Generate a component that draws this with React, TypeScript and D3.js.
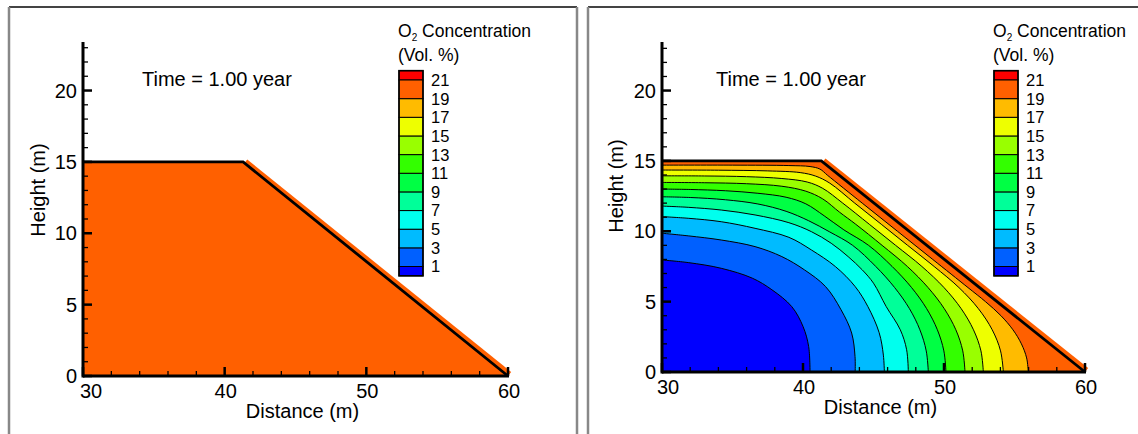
import React from 'react';
import * as d3 from 'd3';

// O2 concentration levels (Vol. %) and the colour of every band
// bandColors[i] = band below levels[i], last one = above 21
const levels = [1, 3, 5, 7, 9, 11, 13, 15, 17, 19, 21];
const bandColors = [
  '#0000ff', '#0060ff', '#00bbff', '#00ffee', '#00ff99', '#00ff44',
  '#33ff00', '#99ff00', '#eeff00', '#ffbb00', '#ff6000', '#ff0000',
];

// waste rock pile outline (distance m, height m)
const domainX = [30, 30, 41.3, 60];
const domainY = [0, 15, 15, 0];

const xTicks = [30, 40, 50, 60];
const xMinor = [32, 34, 36, 38, 42, 44, 46, 48, 52, 54, 56, 58];
const yTicks = [0, 5, 10, 15, 20];
const yMinor = [1, 2, 3, 4, 6, 7, 8, 9, 11, 12, 13, 14, 16, 17, 18, 19, 21, 22, 23];

const timeLabel = 'Time = 1.00 year';

// contour lines of the right plot: [distance, height]
const c1 = [[30, 7.96], [31.9, 7.77], [34.2, 7.37], [36.4, 6.67], [37.8, 5.84], [39.2, 4.65], [40.0, 3.24], [40.4, 1.82], [40.5, 0]];
const c3 = [[30, 9.86], [31.9, 9.67], [34.2, 9.38], [36.6, 8.91], [38.5, 8.2], [40.1, 7.26], [41.6, 6.07], [42.7, 4.42], [43.45, 2.77], [43.69, 1.1], [43.7, 0]];
const c5 = [[30, 11.04], [31.9, 10.92], [34.2, 10.68], [36.6, 10.21], [39.0, 9.57], [40.6, 8.67], [42.3, 7.49], [43.7, 6.07], [44.6, 4.65], [45.4, 2.8], [45.7, 1.2], [45.77, 0]];
const c7 = [[30, 11.79], [31.9, 11.7], [34.2, 11.51], [36.6, 11.16], [39.0, 10.61], [40.6, 9.97], [42.0, 9.15], [43.2, 8.2], [44.2, 7.26], [45.0, 6.31], [45.9, 4.65], [46.9, 3.0], [47.35, 1.58], [47.47, 0]];
const c9 = [[30, 12.45], [32, 12.4], [34.5, 12.24], [36.8, 11.94], [38.8, 11.42], [40.4, 10.75], [41.9, 9.95], [43.52, 9.0], [45.16, 7.5], [46.5, 6.0], [47.55, 4.5], [48.29, 3.0], [48.74, 1.5], [48.89, 0]];
const c11 = [[30, 13.0], [32, 12.97], [34.5, 12.88], [36.8, 12.7], [38.8, 12.42], [40.2, 11.95], [41.5, 11.1], [42.9, 10.1], [44.65, 9.0], [46.32, 7.5], [47.7, 6.0], [48.77, 4.5], [49.53, 3.0], [49.99, 1.5], [50.14, 0]];
const c13 = [[30, 13.47], [33, 13.45], [36, 13.38], [38.5, 13.2], [40.2, 12.85], [41.4, 12.3], [42.6, 11.35], [43.74, 10.5], [45.61, 9.0], [47.4, 7.5], [48.87, 6.0], [50.02, 4.5], [50.84, 3.0], [51.33, 1.5], [51.49, 0]];
const c15 = [[30, 13.94], [33, 13.93], [36, 13.88], [38.5, 13.75], [40.3, 13.5], [41.4, 13.05], [42.82, 12.0], [44.7, 10.5], [46.57, 9.0], [48.43, 7.5], [50.0, 6.0], [51.22, 4.5], [52.09, 3.0], [52.62, 1.5], [52.79, 0]];
const c17 = [[30, 14.35], [34, 14.34], [37.5, 14.29], [39.8, 14.17], [40.9, 13.92], [41.9, 13.42], [43.67, 12.0], [45.55, 10.5], [47.42, 9.0], [49.3, 7.5], [51.06, 6.0], [52.44, 4.5], [53.42, 3.0], [54.01, 1.5], [54.21, 0]];
const c19 = [[30, 14.7], [35, 14.7], [39, 14.67], [40.5, 14.6], [41.2, 14.42], [41.75, 13.97], [44.2, 12.0], [46.7, 10.0], [49.2, 8.0], [51.7, 6.0], [52.94, 5.0], [54.04, 4.0], [54.89, 3.0], [55.49, 2.0], [55.86, 1.0], [55.98, 0]];
const rightContours = [c1, c3, c5, c7, c9, c11, c13, c15, c17, c19];

const font = 'Liberation Sans, Arial, sans-serif';

function Panel({ cfg, contours }) {
  const x = d3.scaleLinear().domain([30, 60]).range([cfg.xLeft, cfg.xRight]);
  const y = d3.scaleLinear().domain([0, cfg.yTop]).range([cfg.yBottom, 42]);
  const lg = d3.scaleLinear().domain([21, 1]).range([80, 266.5]);
  const line = d3.line().x(d => x(d[0])).y(d => y(d[1]));
  const curve = d3.line().x(d => x(d[0])).y(d => y(d[1])).curve(d3.curveCatmullRom.alpha(0.5));

  const pts = domainX.map((v, i) => [v, domainY[i]]);
  const domainPath = line(pts) + 'Z';
  // orange rim just outside the slope
  const ox = 1.6, oy = -2.0;
  const half = (lg(1) - lg(3)) / 2;

  return (
    <g fontFamily={font}>
      {/* frame */}
      <line x1={cfg.frameLeft} x2={cfg.frameRight} y1={7} y2={7} stroke="#444" strokeWidth={2} />
      <line x1={cfg.frameLeft} x2={cfg.frameLeft} y1={7} y2={440} stroke="#888" strokeWidth={2.5} />
      {cfg.frameRight < 1138 && <line x1={cfg.frameRight} x2={cfg.frameRight} y1={7} y2={440} stroke="#888" strokeWidth={2.5} />}

      {/* field */}
      <line x1={x(41.3) + ox + 1} y1={y(15) + oy + 1.5} x2={x(60) + ox} y2={y(0) + oy} stroke={bandColors[10]} strokeWidth={5} />
      <path d={domainPath} fill={bandColors[10]} stroke={bandColors[10]} strokeWidth={1} />
      {contours.slice().reverse().map((c, k) => {
        const i = contours.length - 1 - k;
        return <path key={'f' + i} d={curve(c) + `L${x(30)},${y(0)}Z`} fill={bandColors[i]} />;
      })}
      {contours.map((c, i) => (
        <path key={'c' + i} d={curve(c)} fill="none" stroke="#000" strokeWidth={1} />
      ))}
      <path d={line(pts.slice(1))} fill="none" stroke="#000" strokeWidth={2.8} />

      {/* axes */}
      <line x1={x(30)} x2={x(60) + 1} y1={y(0)} y2={y(0)} stroke="#000" strokeWidth={3} />
      <line x1={x(30)} x2={x(30)} y1={y(0) + 1.5} y2={42} stroke="#000" strokeWidth={3} />
      {xTicks.map(t => (
        <g key={'xt' + t}>
          <line x1={x(t)} x2={x(t)} y1={y(0)} y2={y(0) - 9} stroke="#000" strokeWidth={2.5} />
          <text x={x(t) + (t === 30 ? cfg.firstDx : 1)} y={y(0) + 22} fontSize={20} textAnchor="middle">{t}</text>
        </g>
      ))}
      {xMinor.map(t => (
        <line key={'xm' + t} x1={x(t)} x2={x(t)} y1={y(0)} y2={y(0) - 5} stroke="#000" strokeWidth={1.3} />
      ))}
      {yTicks.map(t => (
        <g key={'yt' + t}>
          <line x1={x(30)} x2={x(30) + 9} y1={y(t)} y2={y(t)} stroke="#000" strokeWidth={2.5} />
          <text x={x(30) - 6} y={y(t)} dy="0.36em" fontSize={20} textAnchor="end">{t}</text>
        </g>
      ))}
      {yMinor.map(t => (
        <line key={'ym' + t} x1={x(30)} x2={x(30) + 5} y1={y(t)} y2={y(t)} stroke="#000" strokeWidth={1.3} />
      ))}
      <text x={(x(30) + x(60)) / 2 + 7} y={y(0) + 42} fontSize={20} textAnchor="middle">Distance (m)</text>
      <text transform={`translate(${cfg.yTitleX},${cfg.yTitleY}) rotate(-90)`} fontSize={20} textAnchor="middle">Height (m)</text>
      <text x={cfg.timeX} y={86} fontSize={20}>{timeLabel}</text>

      {/* legend */}
      <text x={cfg.legX - 1} y={37} fontSize={17.5}>
        O<tspan fontSize={10} dy={4}>2</tspan><tspan dy={-4}> Concentration</tspan>
      </text>
      <text x={cfg.legX - 1} y={60.5} fontSize={17.5}>(Vol. %)</text>
      <rect x={cfg.legX} y={lg(21) - half} width={24} height={half} fill={bandColors[11]} stroke="#000" strokeWidth={1} />
      {levels.slice(0, 10).map((lv, i) => (
        <rect key={'lc' + lv} x={cfg.legX} y={lg(lv + 2)} width={24} height={lg(lv) - lg(lv + 2)} fill={bandColors[i + 1]} stroke="#000" strokeWidth={1} />
      ))}
      <rect x={cfg.legX} y={lg(1)} width={24} height={half} fill={bandColors[0]} stroke="#000" strokeWidth={1} />
      <rect x={cfg.legX} y={lg(21) - half} width={24} height={lg(1) - lg(21) + 2 * half} fill="none" stroke="#000" strokeWidth={1.6} />
      {levels.map(lv => (
        <text key={'ll' + lv} x={cfg.legX + 32} y={lg(lv)} dy="0.36em" fontSize={16.5}>{lv}</text>
      ))}
    </g>
  );
}

const leftCfg = {
  frameLeft: 9, frameRight: 577, xLeft: 83, xRight: 508, yBottom: 376, yTop: 23.4,
  firstDx: 8, yTitleX: 45, yTitleY: 190, timeX: 142, legX: 399,
};
const rightCfg = {
  frameLeft: 588, frameRight: 1150, xLeft: 662, xRight: 1085, yBottom: 372, yTop: 23.45,
  firstDx: 6, yTitleX: 623, yTitleY: 186, timeX: 716, legX: 994,
};

export default function App() {
  return (
    <svg width={1138} height={434} style={{ position: 'absolute', left: 0, top: 0, background: '#fff' }}>
      <rect width={1138} height={434} fill="#fff" />
      <Panel cfg={leftCfg} contours={[]} />
      <Panel cfg={rightCfg} contours={rightContours} />
    </svg>
  );
}
